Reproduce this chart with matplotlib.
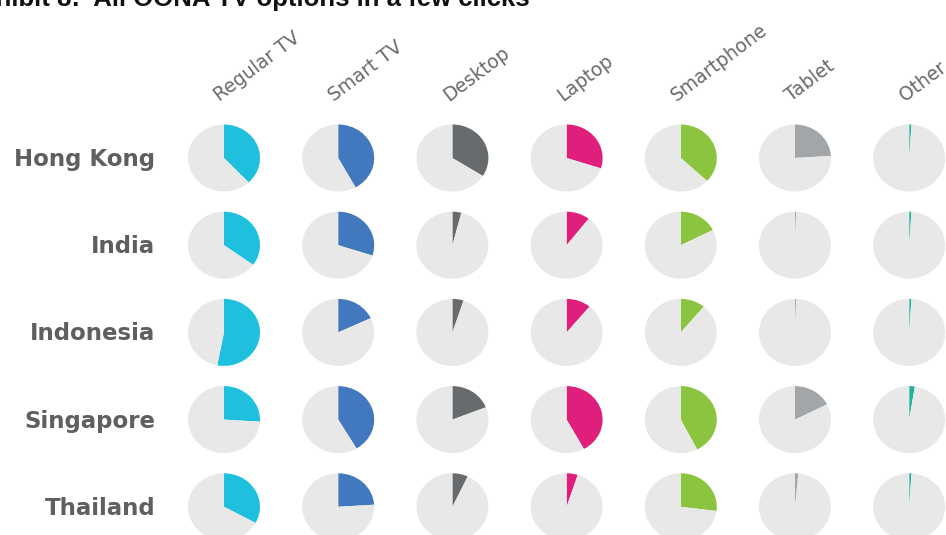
import matplotlib
matplotlib.use("Agg")
import matplotlib.pyplot as plt

# share of viewers using each device, per market
countries = ["Hong Kong", "India", "Indonesia", "Singapore", "Thailand"]
devices = ["Regular TV", "Smart TV", "Desktop", "Laptop", "Smartphone", "Tablet", "Other"]

regular_tv = [0.38, 0.35, 0.53, 0.26, 0.33]
smart_tv = [0.42, 0.30, 0.18, 0.415, 0.24]
desktop = [0.34, 0.04, 0.05, 0.19, 0.07]
laptop = [0.30, 0.105, 0.11, 0.42, 0.05]
smartphone = [0.37, 0.175, 0.11, 0.425, 0.27]
tablet = [0.24, 0.005, 0.005, 0.175, 0.015]
other = [0.01, 0.01, 0.01, 0.025, 0.01]

colors = ["#1fc0dd", "#4278bd", "#686b6e", "#e01e7b", "#8bc43f", "#a3a6a8", "#1bb39c"]
rest_color = "#e8e8e8"

title = "Exhibit 8:  All OONA TV options in a few clicks"

W, H = 946, 535
fig = plt.figure(figsize=(W / 100, H / 100), dpi=100)

# layout in pixels
col_x0, col_dx = 224, 114.2
row_y0, row_dy = 158, 87.2
pie_w, pie_h = 72, 67

series = [regular_tv, smart_tv, desktop, laptop, smartphone, tablet, other]

for j, vals in enumerate(series):
    cx = col_x0 + j * col_dx
    for i, v in enumerate(vals):
        cy = row_y0 + i * row_dy
        ax = fig.add_axes([(cx - pie_w / 2) / W, 1 - (cy + pie_h / 2) / H, pie_w / W, pie_h / H])
        ax.pie([v, 1 - v], colors=[colors[j], rest_color], startangle=90,
               counterclock=False, radius=1, wedgeprops=dict(linewidth=0))
        ax.set_aspect("auto")
        ax.set_xlim(-1, 1)
        ax.set_ylim(-1, 1)
        ax.axis("off")

    # column header
    fig.text((cx - 4) / W, 1 - 102 / H, devices[j], rotation=37, rotation_mode="anchor",
             ha="left", va="baseline", fontsize=13.5, color="#6a6a6a", family="DejaVu Sans")

for i, c in enumerate(countries):
    cy = row_y0 + i * row_dy
    fig.text(155 / W, 1 - (cy + 8) / H, c, ha="right", va="baseline", fontsize=16.5,
             fontweight="bold", color="#5e5f61", family="DejaVu Sans")

fig.text(530 / W, 1 - 6 / H, title, ha="right", va="baseline", fontsize=18.5,
         fontweight="bold", color="#111111", family="Liberation Sans")

fig.savefig("out.png", dpi=100)
